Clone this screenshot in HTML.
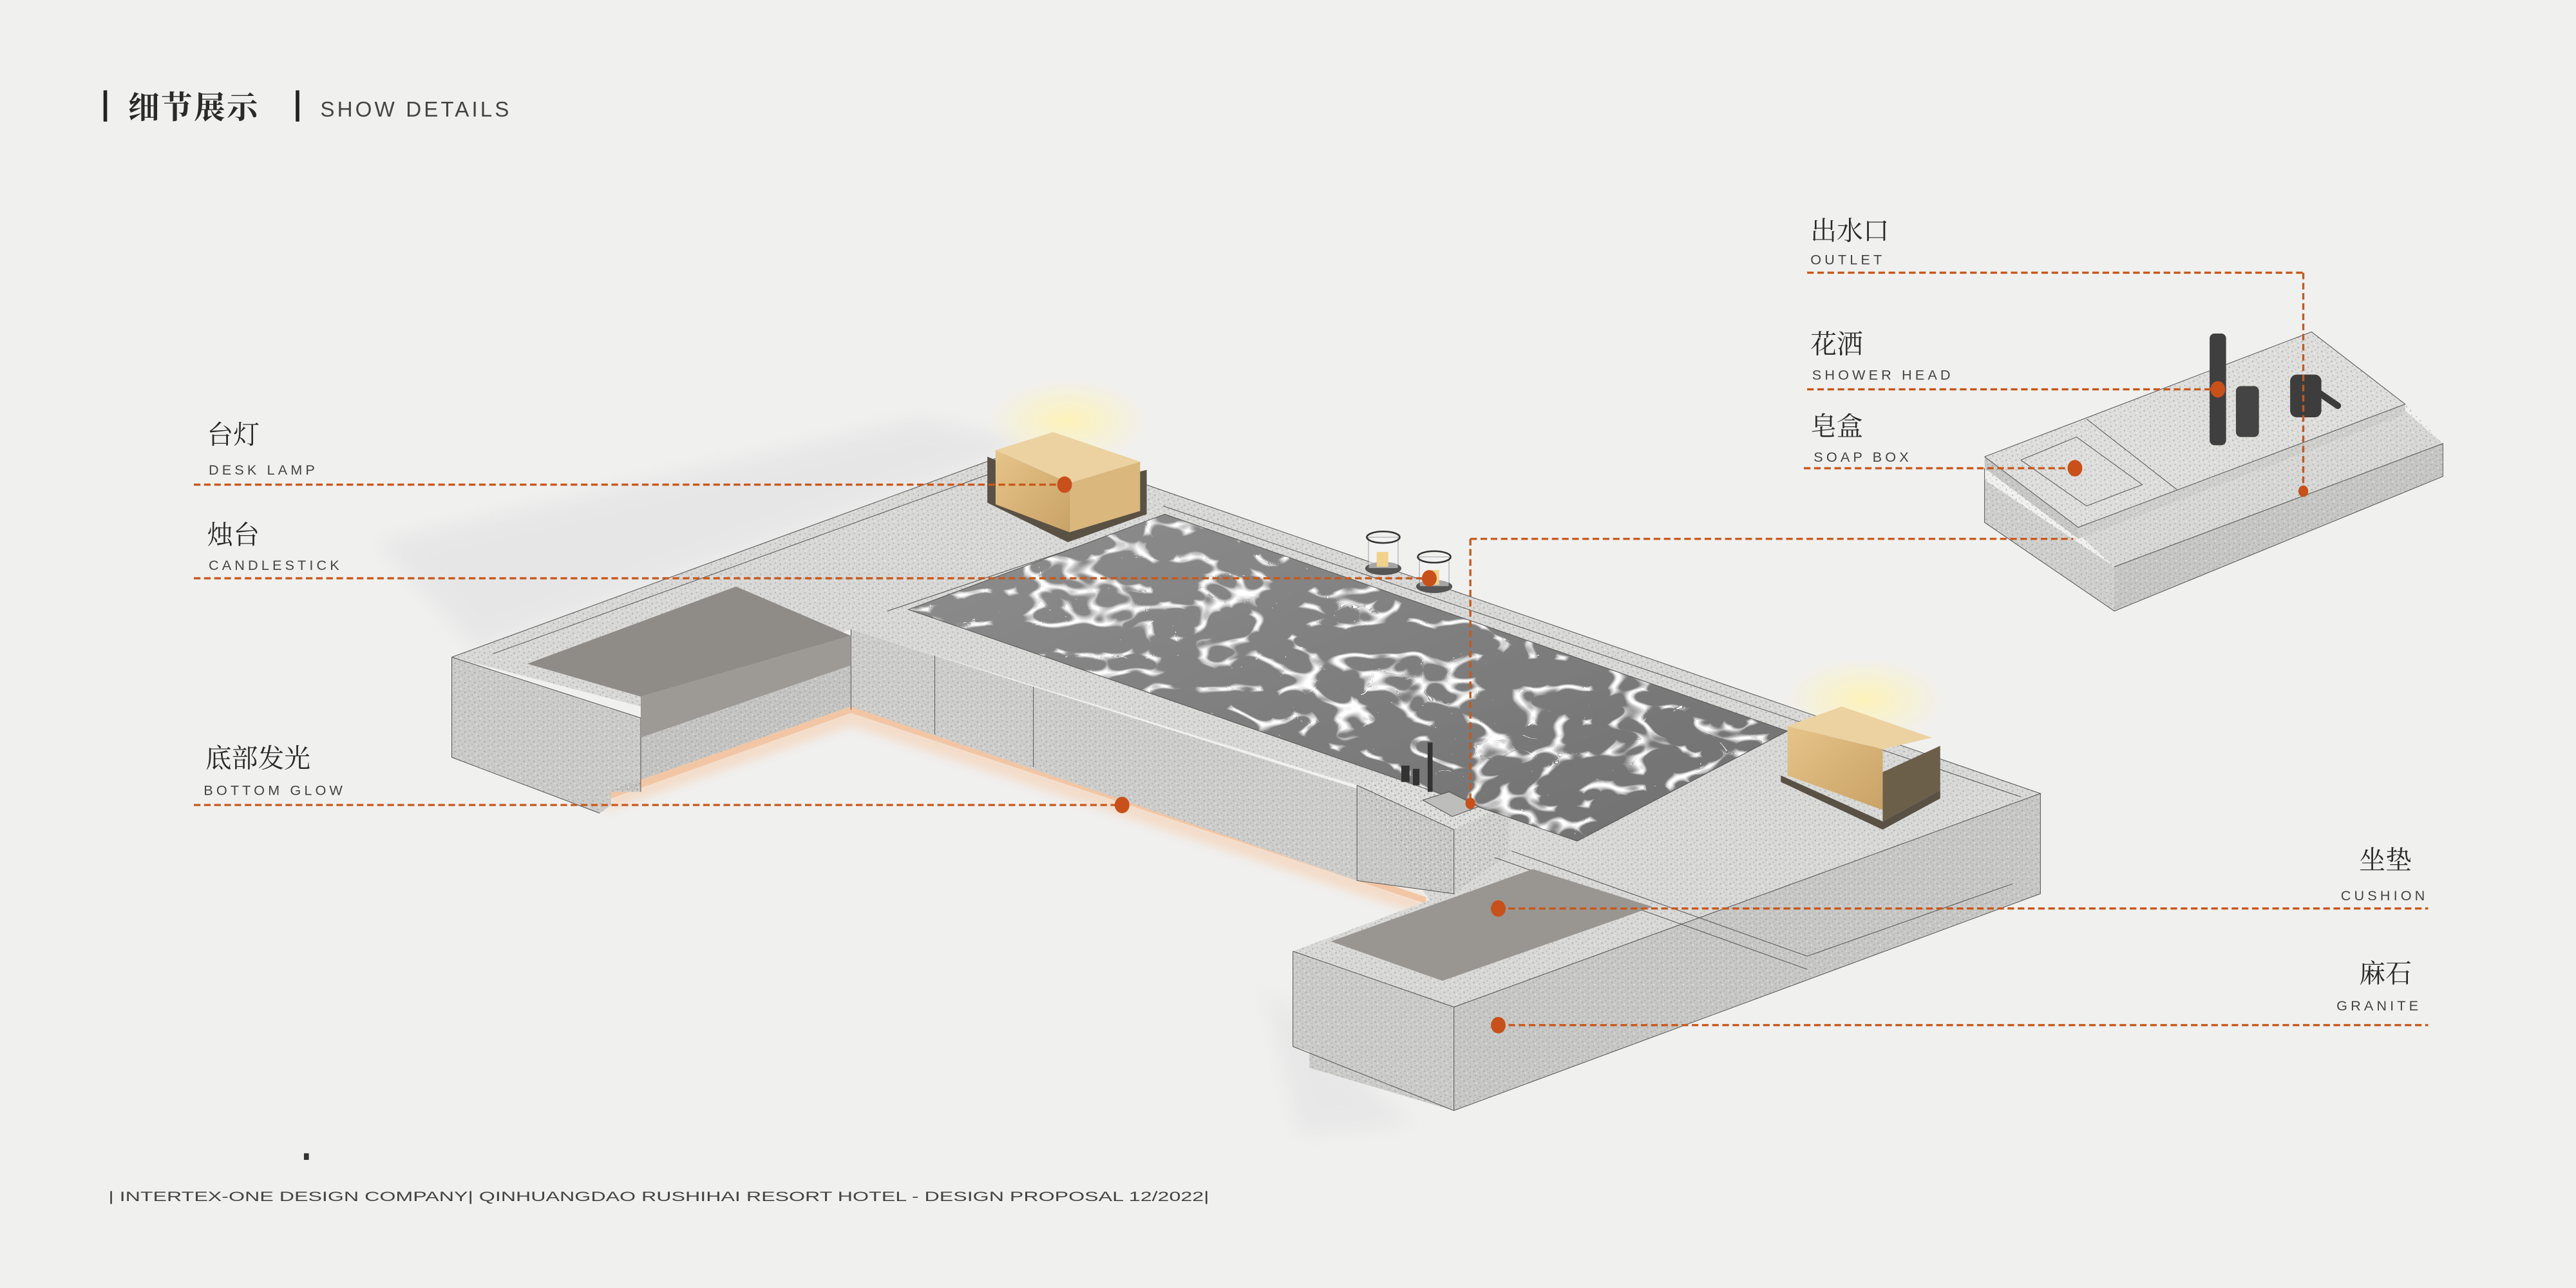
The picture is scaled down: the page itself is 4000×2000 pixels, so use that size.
<!DOCTYPE html>
<html><head><meta charset="utf-8">
<style>
html,body{margin:0;padding:0;background:#f0f0ef;}
svg{display:block;}
.cn{font-family:"Liberation Serif","Noto Serif CJK SC",serif;fill:#2a2a2a;}
.en{font-family:"Liberation Sans",sans-serif;fill:#444;}
.dash{stroke:#c8581a;stroke-width:1.3;stroke-dasharray:4 2.2;fill:none;}
.dot{fill:#c8501a;}
.ln{stroke:#555;stroke-width:0.4;fill:none;}
</style></head>
<body>
<svg width="4000" height="2000" viewBox="0 0 1568 784" preserveAspectRatio="none" xmlns="http://www.w3.org/2000/svg">
<defs>
<pattern id="speck" width="6" height="6" patternUnits="userSpaceOnUse">
  <rect width="6" height="6" fill="none"/>
  <circle cx="1" cy="1.5" r="0.45" fill="#8a8a8a" opacity="0.6"/>
  <circle cx="4" cy="0.7" r="0.35" fill="#777" opacity="0.5"/>
  <circle cx="3.2" cy="4" r="0.5" fill="#999" opacity="0.55"/>
  <circle cx="5.4" cy="3" r="0.3" fill="#666" opacity="0.5"/>
  <circle cx="0.6" cy="5" r="0.35" fill="#888" opacity="0.5"/>
  <circle cx="2" cy="3" r="0.3" fill="#fff" opacity="0.7"/>
  <circle cx="4.6" cy="5.3" r="0.35" fill="#fff" opacity="0.7"/>
</pattern>
<filter id="water" x="0" y="0" width="100%" height="100%">
  <feTurbulence type="turbulence" baseFrequency="0.03 0.05" numOctaves="2" seed="7" result="n"/>
  <feColorMatrix in="n" type="matrix" values="0 0 0 0 1  0 0 0 0 1  0 0 0 0 1  -9 0 0 0 1.3" result="w"/>
  <feComposite in="w" in2="SourceGraphic" operator="in" result="c"/>
  <feMerge><feMergeNode in="SourceGraphic"/><feMergeNode in="c"/></feMerge>
</filter>
<filter id="blur6"><feGaussianBlur stdDeviation="6"/></filter>
<filter id="blur3"><feGaussianBlur stdDeviation="3"/></filter>
<radialGradient id="glow" cx="0.5" cy="0.5" r="0.5">
  <stop offset="0" stop-color="#fff3b0" stop-opacity="0.85"/>
  <stop offset="1" stop-color="#fff3b0" stop-opacity="0"/>
</radialGradient>
<linearGradient id="wood" x1="0" y1="0" x2="1" y2="1">
  <stop offset="0" stop-color="#e6c48a"/><stop offset="1" stop-color="#c9a266"/>
</linearGradient>
<linearGradient id="wg" x1="0" y1="0" x2="1" y2="1">
  <stop offset="0" stop-color="#8e8e8e"/><stop offset="1" stop-color="#6f6f6f"/>
</linearGradient>
</defs>

<rect width="1568" height="784" fill="#f0f0ef"/>

<!-- shadows -->
<polygon points="230,330 560,255 630,270 290,395" fill="#d6d6d9" opacity="0.35" filter="url(#blur6)"/>
<polygon points="770,600 790,690 860,685" fill="#d8d8da" opacity="0.35" filter="url(#blur6)"/>

<!-- lamp glows -->
<ellipse cx="650" cy="256" rx="50" ry="26" fill="url(#glow)"/>
<ellipse cx="1135" cy="426" rx="50" ry="26" fill="url(#glow)"/>

<!-- bottom glow -->
<polygon points="368,494 518,442 868,558 868,546 518,430 372,481" fill="#f4d7c0" opacity="0.8" filter="url(#blur3)"/>
<polygon points="372,486 518,434 868,550 868,546 518,430 372,481" fill="#f2c6a4"/>

<!-- main surfaces -->
<g>
<polygon points="275,400 628,271 1242,483 885,613 787,579 870,548 826,478 518,383 390,430" fill="#d8d8d6"/>
<polygon points="275,400 390,437 390,482 372,482 372,490 365,495 275,461" fill="#cbcbc9"/>
<polygon points="390,449 518,405 518,430 372,481 390,481" fill="#c4c4c2"/>
<polygon points="518,383 826,480 826,536 518,430" fill="#cdcdcb"/>
<polygon points="826,478 855,471 918,490 885,505" fill="#dcdcda"/>
<polygon points="826,478 885,505 885,544 826,536" fill="#c9c9c7"/>
<polygon points="885,505 918,490 918,520 885,544" fill="#d0d0ce"/>
<polygon points="787,579 885,613 885,676 797,650 797,640 787,637" fill="#cbcbc9"/>
<polygon points="885,613 1242,483 1242,544 885,676" fill="#c7c7c5"/>
<polygon points="1208,292 1287,345 1287,372 1208,318" fill="#cfcfcd"/>
<polygon points="1265,325 1464,250 1487,270 1287,345" fill="#d7d7d5"/>
<polygon points="1287,345 1487,270 1487,290 1287,372" fill="#c6c6c4"/>
<polygon points="1208,278 1407,202 1464,246 1265,321" fill="#dededc"/>
<polygon points="1208,278 1265,321 1265,328 1208,285" fill="#c8c8c6"/>
<polygon points="1265,321 1464,246 1464,252 1265,328" fill="#cfcfcd"/>
</g>
<!-- speckle overlay -->
<g fill="url(#speck)">
<polygon points="275,400 628,271 1242,483 885,613 787,579 870,548 826,478 518,383 390,430"/>
<polygon points="275,400 390,437 390,482 372,482 372,490 365,495 275,461"/>
<polygon points="390,449 518,405 518,430 372,481 390,481"/>
<polygon points="518,383 826,480 826,536 518,430"/>
<polygon points="826,478 855,471 918,490 918,520 885,544 826,536"/>
<polygon points="787,579 885,613 885,676 797,650 797,640 787,637"/>
<polygon points="885,613 1242,483 1242,544 885,676"/>
<polygon points="1208,278 1407,202 1464,246 1487,270 1487,290 1287,372 1208,318"/>
</g>

<!-- outline lines -->
<g class="ln">
<polyline points="275,400 628,271 1242,483 885,613 787,579"/>
<polyline points="275,400 390,437 390,482"/>
<polyline points="275,400 275,461 365,495"/>
<line x1="518" y1="383" x2="518" y2="432"/>
<line x1="569" y1="399" x2="569" y2="447"/>
<line x1="629" y1="418" x2="629" y2="467"/>
<line x1="885" y1="613" x2="885" y2="676"/>
<polyline points="787,579 787,637 885,676 1242,544 1242,483"/>
<polyline points="826,478 885,505 885,544 826,536 826,478"/>
<polyline points="300,398 612,285"/>
<polyline points="540,372 700,318"/>
<polyline points="708,308 1230,485"/>
<polyline points="910,522 1100,590"/>
<polyline points="920,518 1100,582 1225,538"/>
<polyline points="1208,278 1407,202 1464,246 1265,321 1208,278"/>
<polyline points="1270,255 1325,298"/>
<polyline points="1230,280 1264,266 1304,295 1270,308 1230,280"/>
<polyline points="1287,345 1487,270 1487,290 1287,372 1208,318 1208,285"/>
</g>

<!-- left cushion -->
<polygon points="321,404 448,357 518,387 390,424" fill="#8f8c88"/>
<polygon points="390,424 518,387 518,405 390,449" fill="#9d9a96"/>
<!-- right cushion -->
<polygon points="810,573 933,529 1006,552 878,597" fill="#999691"/>

<!-- water -->
<polygon points="553,371 709,313 1088,445 960,512" fill="url(#wg)" filter="url(#water)"/>
<polygon points="553,371 709,313 1088,445 960,512" fill="none" stroke="#555" stroke-width="0.4"/>

<!-- lamp 1 -->
<polygon points="601,278 650,298 698,286 698,313 650,330 601,306" fill="#5a5145"/>
<polygon points="606,274 651,294 651,324 606,307" fill="url(#wood)"/>
<polygon points="651,294 694,281 694,311 651,324" fill="#d9b77d"/>
<polygon points="606,274 641,263 694,281 651,294" fill="#ecd2a0"/>
<!-- lamp 2 -->
<polygon points="1084,472 1146,500 1181,481 1181,486 1146,505 1084,476" fill="#5a5145"/>
<polygon points="1088,442 1146,456 1146,493 1088,472" fill="url(#wood)"/>
<polygon points="1088,442 1121,430 1176,449 1146,456" fill="#ecd2a0"/>
<polygon points="1146,470 1181,454 1181,481 1146,500" fill="#6b5f4a"/>

<!-- candles -->
<ellipse cx="842" cy="346" rx="11" ry="4" fill="#555"/>
<rect x="833" y="327" width="18" height="19" fill="#f5f5f5" opacity="0.5" stroke="#555" stroke-width="0.4"/>
<ellipse cx="842" cy="327" rx="10" ry="3.5" fill="none" stroke="#333" stroke-width="1"/>
<rect x="838" y="336" width="7" height="9" fill="#f0d28a"/>
<ellipse cx="873" cy="357" rx="11" ry="4" fill="#555"/>
<rect x="864" y="339" width="18" height="18" fill="#f5f5f5" opacity="0.5" stroke="#555" stroke-width="0.4"/>
<ellipse cx="873" cy="339" rx="10" ry="3.5" fill="none" stroke="#333" stroke-width="1"/>
<rect x="869" y="347" width="7" height="9" fill="#f0d28a"/>

<!-- faucet on tub -->
<rect x="869" y="452" width="3" height="30" fill="#333"/>
<rect x="853" y="466" width="5" height="10" fill="#333"/>
<rect x="860" y="468" width="4" height="10" fill="#333"/>
<polygon points="866,487 882,482 900,491 884,497" fill="#bdbdbb" stroke="#555" stroke-width="0.4"/>

<!-- right unit fixtures -->
<rect x="1345" y="203" width="10" height="68" rx="3" fill="#3f3f3f"/>
<rect x="1361" y="235" width="14" height="31" rx="3" fill="#444"/>
<rect x="1394" y="228" width="19" height="26" rx="4" fill="#3d3d3d"/>
<line x1="1410" y1="238" x2="1423" y2="247" stroke="#3d3d3d" stroke-width="4" stroke-linecap="round"/>

<!-- connectors -->
<g class="dash">
<line x1="118" y1="295" x2="648" y2="295"/>
<line x1="118" y1="352" x2="870" y2="352"/>
<line x1="118" y1="490" x2="683" y2="490"/>
<line x1="1100" y1="166" x2="1402" y2="166"/>
<line x1="1402" y1="166" x2="1402" y2="298"/>
<line x1="1100" y1="237" x2="1350" y2="237"/>
<line x1="1098" y1="285" x2="1263" y2="285"/>
<line x1="895" y1="328" x2="1262" y2="328"/>
<line x1="895" y1="328" x2="895" y2="489"/>
<line x1="912" y1="553" x2="1478" y2="553"/>
<line x1="912" y1="624" x2="1478" y2="624"/>
</g>
<g class="dot">
<ellipse cx="648" cy="295" rx="4.5" ry="5"/>
<ellipse cx="870" cy="352" rx="4.5" ry="5"/>
<ellipse cx="683" cy="490" rx="4.5" ry="5"/>
<ellipse cx="1350" cy="237" rx="4.5" ry="5"/>
<ellipse cx="1263" cy="285" rx="4.5" ry="5"/>
<ellipse cx="1402" cy="299" rx="3" ry="3.5"/>
<ellipse cx="895" cy="489" rx="3" ry="3.5"/>
<ellipse cx="912" cy="553" rx="4.5" ry="5"/>
<ellipse cx="912" cy="624" rx="4.5" ry="5"/>
</g>

<!-- title -->
<rect x="63" y="55" width="2.2" height="19" fill="#222"/>
<text class="cn" x="78" y="72" font-size="19" font-weight="bold" letter-spacing="1">细节展示</text>
<rect x="180" y="55" width="2.2" height="19" fill="#222"/>
<text class="en" x="195" y="71" font-size="13" letter-spacing="1.6" fill="#333">SHOW DETAILS</text>

<!-- labels -->
<text class="cn" x="126" y="270" font-size="16">台灯</text>
<text class="en" x="127" y="289" font-size="8.5" letter-spacing="2">DESK LAMP</text>
<text class="cn" x="126" y="331" font-size="16">烛台</text>
<text class="en" x="127" y="347" font-size="8.5" letter-spacing="2">CANDLESTICK</text>
<text class="cn" x="125" y="467" font-size="16">底部发光</text>
<text class="en" x="124" y="484" font-size="8.5" letter-spacing="2">BOTTOM GLOW</text>

<text class="cn" x="1102" y="146" font-size="16">出水口</text>
<text class="en" x="1102" y="161" font-size="8.5" letter-spacing="2">OUTLET</text>
<text class="cn" x="1102" y="215" font-size="16">花洒</text>
<text class="en" x="1103" y="231" font-size="8.5" letter-spacing="2">SHOWER HEAD</text>
<text class="cn" x="1102" y="265" font-size="16">皂盒</text>
<text class="en" x="1104" y="281" font-size="8.5" letter-spacing="2">SOAP BOX</text>

<text class="cn" x="1468" y="529" font-size="16" text-anchor="end">坐垫</text>
<text class="en" x="1478" y="548" font-size="8.5" letter-spacing="2" text-anchor="end">CUSHION</text>
<text class="cn" x="1468" y="598" font-size="16" text-anchor="end">麻石</text>
<text class="en" x="1474" y="615" font-size="8.5" letter-spacing="2" text-anchor="end">GRANITE</text>

<!-- footer -->
<rect x="185" y="702" width="3" height="4" fill="#333"/>
<text class="en" x="66" y="731" font-size="8.5" fill="#9a9a9a" textLength="670" lengthAdjust="spacingAndGlyphs">| INTERTEX-ONE DESIGN COMPANY| QINHUANGDAO RUSHIHAI RESORT HOTEL - DESIGN PROPOSAL 12/2022|</text>
</svg>
</body></html>
